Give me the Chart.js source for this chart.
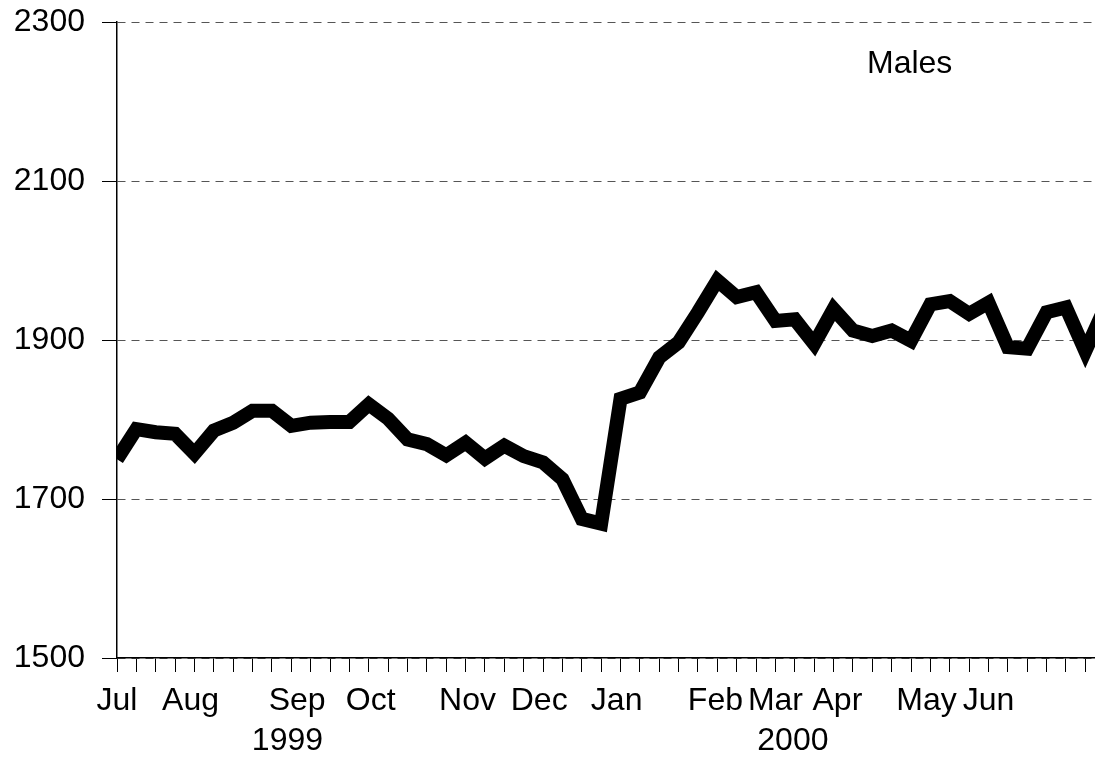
<!DOCTYPE html>
<html>
<head>
<meta charset="utf-8">
<script src="https://cdn.jsdelivr.net/npm/chart.js@4.4.1/dist/chart.umd.min.js"></script>
<style>
  html, body { margin: 0; padding: 0; background: #fff; }
  #wrap { position: relative; width: 1095px; height: 759px; }
</style>
</head>
<body>
<div id="wrap"><canvas id="c"></canvas></div>
<script>
// Weekly values, July 1999 - June 2000 (Males)
const weekValues = [1750,1788,1784,1782,1757,1786,1796,1811,1811,1792,1796,1797,1797,1819,1801,1775,1769,1755,1771,1751,
  1767,1754,1746,1725,1675,1669,1826,1834,1878,1897,1935,1975,1954,1960,1924,1926,1895,1939,1912,1905,
  1912,1899,1945,1949,1933,1947,1891,1889,1935,1941,1886,1940];
const weekTicks = Array.from({length: 51}, (_, i) => i);
const monthNames = ['Jul','Aug','Sep','Oct','Nov','Dec','Jan','Feb','Mar','Apr','May','Jun'];
const monthPos = [0, 3.8, 9.3, 13.1, 18.1, 21.8, 25.8, 30.9, 34.0, 37.2, 41.8, 45.0];
const yearNames = ['1999','2000'];
const yearPos = [8.8, 34.9];
const yTicks = [1500, 1700, 1900, 2100, 2300];
const seriesName = 'Males';

const FONT = "'Liberation Sans', Arial, sans-serif";
const labelTicks = monthPos.map((p, i) => ({value: p, label: monthNames[i]}))
  .concat(yearPos.map((p, i) => ({value: p, label: ['', yearNames[i]]})));

const textPlugin = {
  id: 'seriesText',
  afterDraw(chart) {
    const {ctx, chartArea} = chart;
    ctx.save();
    ctx.font = '32px ' + FONT;
    ctx.fillStyle = '#000';
    ctx.textBaseline = 'alphabetic';
    ctx.textAlign = 'left';
    ctx.fillText(seriesName, chartArea.right - 228, chartArea.top + 51);
    ctx.restore();
  }
};

new Chart(document.getElementById('c'), {
  type: 'line',
  data: {
    datasets: [{
      label: seriesName,
      data: weekValues.map((v, i) => ({x: i, y: v})),
      borderColor: '#000',
      borderWidth: 14,
      pointRadius: 0,
      tension: 0,
      borderJoinStyle: 'miter',
      borderCapStyle: 'butt',
      xAxisID: 'x',
      yAxisID: 'y'
    }]
  },
  options: {
    responsive: true,
    maintainAspectRatio: false,
    devicePixelRatio: 1,
    animation: false,
    layout: { padding: { top: 22, right: 0, bottom: 0, left: 0 } },
    plugins: { legend: { display: false }, tooltip: { enabled: false } },
    scales: {
      x: {
        type: 'linear',
        position: 'bottom',
        weight: 0,
        min: 0,
        max: 50.5,
        afterBuildTicks: (s) => { s.ticks = weekTicks.map(v => ({value: v})); },
        afterFit: (s) => { s.height = 14; },
        ticks: { display: false },
        grid: { drawOnChartArea: false, drawTicks: true, tickLength: 14, tickColor: '#000', tickWidth: 1 },
        border: { display: true, color: '#000', width: 1.5 }
      },
      xl: {
        type: 'linear',
        position: 'bottom',
        weight: 1,
        min: 0,
        max: 50.5,
        afterBuildTicks: (s) => { s.ticks = labelTicks.map(t => ({value: t.value})); },
        afterFit: (s) => { s.height = 87; },
        ticks: {
          autoSkip: false,
          maxRotation: 0,
          minRotation: 0,
          padding: 9,
          color: '#000',
          font: { family: FONT, size: 32, lineHeight: 1.25 },
          callback: (v, i) => labelTicks[i].label
        },
        grid: { display: false, drawTicks: false },
        border: { display: false }
      },
      y: {
        type: 'linear',
        min: 1500,
        max: 2300,
        afterBuildTicks: (s) => { s.ticks = yTicks.map(v => ({value: v})); },
        afterFit: (s) => { s.width = 117; s.paddingTop = 0; s.paddingBottom = 0; },
        ticks: {
          padding: 17,
          color: '#000',
          font: { family: FONT, size: 32 },
          callback: (v) => String(v)
        },
        grid: { color: '#555', lineWidth: 1, drawTicks: true, tickLength: 15, tickColor: '#000', tickWidth: 1 },
        border: { display: true, color: '#000', width: 1.5, dash: [8, 6] }
      }
    }
  },
  plugins: [textPlugin]
});
</script>
</body>
</html>
